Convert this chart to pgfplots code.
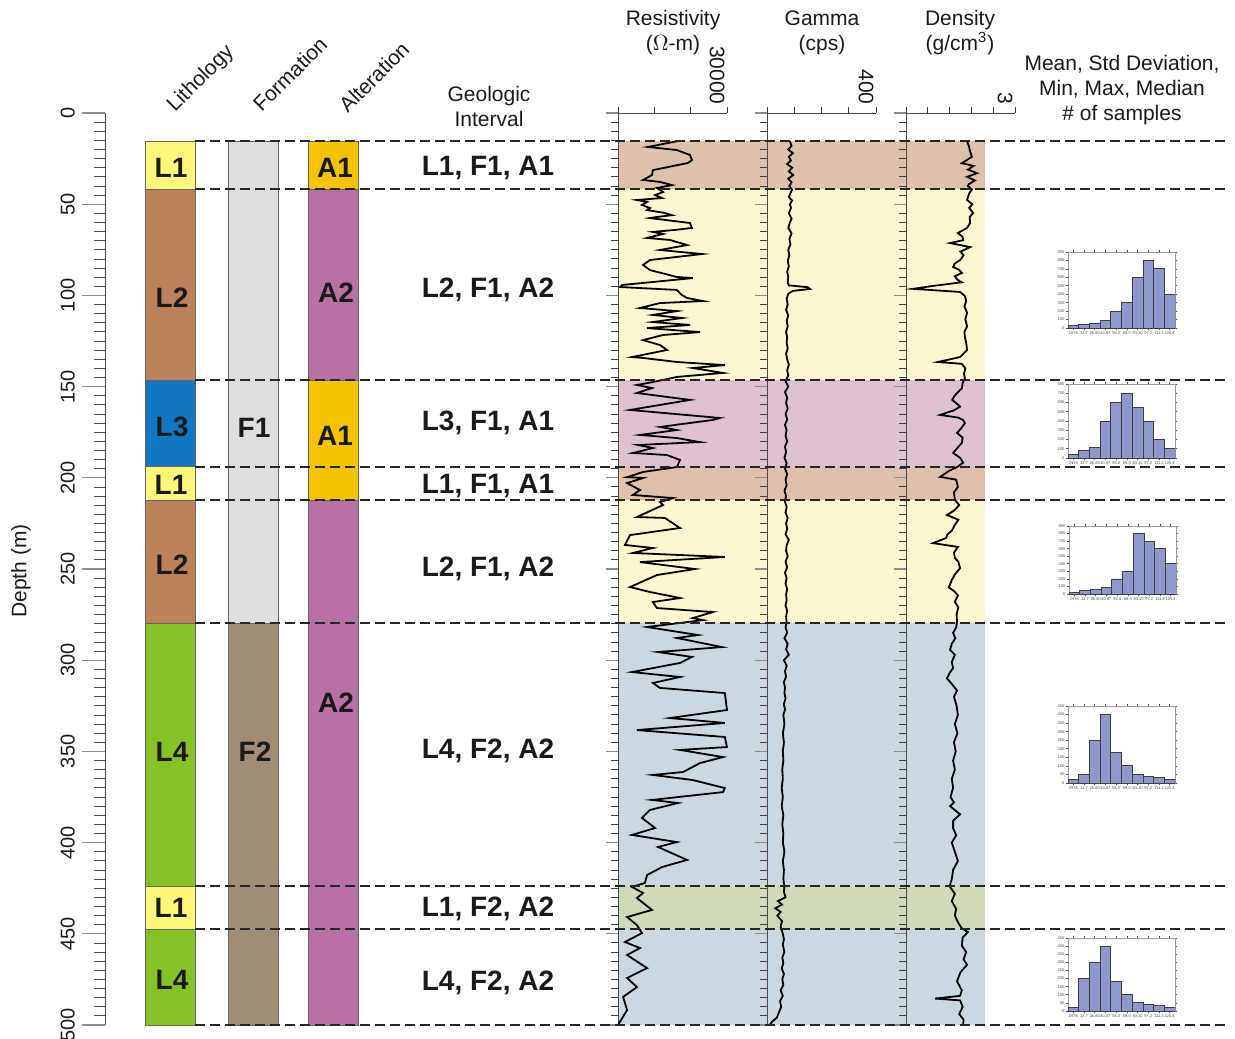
\documentclass[border=0pt]{standalone}
\usepackage{fontspec}
\setmainfont{Liberation Sans}
\usepackage{pgfplots}
\usepackage{pgfplotstable}
\pgfplotsset{compat=1.18}
\pgfplotsset{/pgf/number format/assume math mode=true}
\definecolor{cLone}{HTML}{FFF77A}
\definecolor{cLtwo}{HTML}{BC825C}
\definecolor{cLthree}{HTML}{1177C0}
\definecolor{cLfour}{HTML}{85C227}
\definecolor{cFone}{HTML}{DEDEDE}
\definecolor{cFtwo}{HTML}{A08D76}
\definecolor{cAone}{HTML}{F5C400}
\definecolor{cAtwo}{HTML}{B970A3}
\definecolor{shA}{HTML}{DFC0AB}
\definecolor{shB}{HTML}{FBF7D0}
\definecolor{shC}{HTML}{DFC2CF}
\definecolor{shD}{HTML}{CBD8E0}
\definecolor{shE}{HTML}{CEDAB8}
\definecolor{hbar}{HTML}{8F97CB}
\definecolor{txt}{HTML}{1A1A1A}
\newcommand{\lab}{\fontsize{14}{16}\selectfont\bfseries\color{txt}}
\newcommand{\hdr}{\fontsize{10.5}{12.5}\selectfont\color{txt}}
\newcommand{\blk}[5]{\addplot[fill=#5, draw=black!60, line width=0.4pt] coordinates {(#1,#3) (#2,#3) (#2,#4) (#1,#4)} -- cycle;}
\newcommand{\shd}[5]{\addplot[fill=#5, draw=none] coordinates {(#1,#3) (#2,#3) (#2,#4) (#1,#4)} -- cycle;}
\newcommand{\dline}[1]{\addplot[dash pattern=on 5pt off 2.5pt, line width=0.9pt, color=black!85] coordinates {(195,#1) (1228,#1)};}

\pgfplotstableread{
depth res
15.4 16500
18.6 8250
20.3 16200
23.0 19800
25.8 20350
27.4 19250
31.3 9600
34.0 9350
36.7 6900
37.8 11550
39.5 14850
41.1 10700
43.3 12400
45.0 10200
46.6 12100
47.7 5200
48.8 8000
50.4 6600
52.1 8800
53.2 8000
54.8 12900
56.0 14850
57.0 10700
57.6 8800
60.3 19800
63.0 20350
64.1 15700
65.2 9600
66.3 12400
68.5 8000
69.6 14300
72.4 19000
75.1 11550
77.3 23100
78.9 16200
80.6 8800
83.3 6900
86.1 8800
89.9 16200
90.5 20600
94.3 1100
95.4 550
97.0 16200
99.8 17600
101.4 19000
103.1 23400
104.2 11550
106.9 6050
108.6 16200
110.7 9600
112.4 17600
114.6 9600
116.2 19800
117.9 8000
120.1 22550
121.7 12400
124.5 6900
127.2 11550
129.9 13500
133.8 3850
134.3 6900
136.5 16200
138.2 29400
139.8 20600
142.5 28900
144.7 16200
147.5 9600
149.1 5200
150.8 9350
153.5 5200
157.3 19800
162.8 3300
167.2 28050
168.3 26100
172.1 11550
173.8 16200
176.5 6050
178.2 16200
180.4 22550
182.0 5500
183.7 9600
186.4 4100
187.5 13500
190.2 17050
194.1 16200
196.8 6900
199.6 2500
200.1 6900
202.9 2500
206.7 6050
209.4 4100
211.1 15100
213.3 11550
214.9 12400
221.5 5200
222.0 12900
227.5 17050
231.4 3300
236.8 1900
238.5 9600
241.2 4100
243.4 29400
246.2 6050
250.0 21200
253.3 10700
259.9 3300
262.6 8800
265.9 17050
268.1 9600
271.4 10700
273.6 26100
276.9 20600
278.0 23400
281.8 8000
286.2 22000
287.8 16200
292.8 28600
295.5 11000
298.2 20350
301.5 17050
306.5 3850
309.2 17050
312.5 9600
315.2 11550
318.0 29400
327.3 30000
331.7 14300
334.4 29400
338.3 5200
342.1 29400
347.6 30000
349.2 17050
353.1 28900
356.4 22550
361.3 17900
362.9 9600
365.7 20600
370.1 29400
372.3 28900
376.6 9350
378.3 16500
382.1 8800
386.5 6600
392.0 10200
395.8 3850
399.7 16200
402.4 11000
409.5 19000
413.4 12100
417.8 8000
422.1 7400
424.3 3850
427.6 6900
430.4 5200
436.9 9350
440.8 2500
445.2 5200
449.6 6600
454.5 1900
457.8 6050
461.6 2500
468.8 8000
474.2 2500
479.2 5200
484.6 1400
491.8 2500
500.0 0
}\restable

\pgfplotstableread{
depth gam
15.5 84
18 90
20 78
22 95
24 80
26 88
28 74
30 92
32 80
34 96
36 78
38 90
40 82
42 92
44 86
46 80
48 92
50 84
52 88
55 80
58 90
60 84
63 78
66 90
69 82
72 86
75 78
78 82
81 76
84 80
87 74
90 78
93 76
94.5 80
95.5 150
96.5 158
97.5 95
99 78
102 72
105 76
108 70
111 78
114 72
117 76
120 70
123 74
126 72
129 76
132 70
135 74
138 80
141 74
144 78
147 68
150 78
153 66
156 74
159 70
162 76
165 68
168 74
171 66
174 72
177 68
180 74
183 66
186 70
189 64
192 72
195 66
198 74
201 68
204 72
207 64
210 70
213 66
216 72
219 68
222 76
225 70
228 74
231 68
234 80
237 72
240 70
243 76
246 68
249 74
252 66
255 72
258 68
261 74
264 70
267 72
270 68
273 74
276 70
279 72
282 68
285 74
288 64
291 76
294 70
297 80
300 62
303 72
306 66
309 70
312 62
315 66
318 64
321 68
324 62
327 66
330 60
335 64
340 58
345 62
350 58
355 60
360 56
365 58
370 54
375 58
380 54
385 60
390 56
395 60
400 58
405 64
410 58
415 62
420 60
424 64
427 62
430 68
432 40
434 55
436 30
438 50
440 38
443 55
446 50
450 58
453 62
456 58
460 64
463 56
466 60
469 54
472 62
475 56
478 60
481 50
484 58
487 48
490 52
493 44
496 36
498 20
500 10
}\gamtable

\pgfplotstableread{
depth den
15.5 1.90
18.0 1.94
21.0 1.97
24.0 2.01
26.0 1.88
27.5 1.78
29.0 2.05
31.0 1.92
33.0 2.13
35.0 1.90
37.0 2.08
39.0 1.94
40.0 1.92
42.0 2.01
44.0 1.95
47.7 1.90
50.0 2.02
52.0 1.95
54.8 2.04
57.0 1.96
60.3 1.97
63.0 1.90
65.8 1.69
68.0 1.80
69.7 1.81
71.3 1.51
73.5 1.97
76.0 1.75
78.0 1.82
80.6 1.74
82.5 1.62
84.4 1.58
86.0 1.72
87.7 1.78
89.5 1.62
91.2 1.67
92.8 1.78
94.8 1.12
96.4 0.66
98.1 1.74
100.3 1.85
103.0 1.88
106.0 1.84
109.6 1.90
113.0 1.86
117.0 1.90
120.0 1.84
122.8 1.85
126.0 1.88
129.9 1.90
133.8 1.74
136.5 1.23
137.5 1.78
140.0 1.86
143.0 1.83
145.3 1.85
148.0 1.80
151.0 1.78
153.5 1.67
155.5 1.60
157.3 1.56
160.0 1.70
161.0 1.74
163.0 1.60
165.5 1.28
167.0 1.70
168.3 1.81
170.0 1.85
173.0 1.76
175.4 1.67
178.0 1.80
180.9 1.78
183.0 1.70
186.4 1.58
189.0 1.74
191.7 1.81
194.0 1.68
196.0 1.50
199.5 1.28
201.0 1.65
205.0 1.69
208.0 1.60
212.0 1.62
215.0 1.72
218.0 1.60
220.4 1.44
223.0 1.70
225.9 1.62
229.0 1.55
231.0 1.45
233.0 1.42
235.8 1.12
237.9 1.69
241.0 1.60
243.9 1.62
246.0 1.70
249.5 1.74
253.0 1.62
256.0 1.55
259.0 1.50
260.0 1.48
262.5 1.62
264.5 1.69
268.0 1.62
271.0 1.70
275.0 1.66
279.0 1.67
282.0 1.65
285.0 1.58
288.0 1.63
291.0 1.55
294.4 1.51
297.0 1.62
301.0 1.55
304.3 1.58
307.0 1.50
310.0 1.44
313.0 1.55
316.6 1.67
320.0 1.60
325.0 1.66
330.0 1.69
335.0 1.62
340.0 1.68
345.0 1.60
350.0 1.64
355.0 1.58
360.0 1.62
365.0 1.55
370.0 1.58
375.0 1.52
378.0 1.60
380.0 1.51
384.5 1.74
388.0 1.58
392.0 1.58
396.0 1.65
400.0 1.55
405.0 1.62
410.0 1.69
415.0 1.58
420.0 1.55
424.0 1.50
428.0 1.62
432.0 1.55
436.4 1.65
440.0 1.62
444.0 1.70
447.0 1.78
449.0 1.92
452.0 1.80
456.5 1.78
460.0 1.88
464.0 1.82
467.0 1.90
471.0 1.75
476.0 1.67
481.0 1.78
484.0 1.74
485.5 1.17
486.5 1.74
490.0 1.80
494.0 1.72
497.0 1.82
500.0 1.81
}\dentable

\pgfplotsset{
  track/.style={
    anchor=north west, scale only axis, width=54.5pt, height=456pt,
    ymin=0, ymax=500, y dir=reverse, axis x line*=top, axis y line*=left, clip=false,
    axis line style={black!70, line width=0.5pt},
    tick align=outside, major tick length=3pt,
    ytick=\empty,
    tick style={black!75, line width=0.5pt},
    x tick label style={rotate=-90, anchor=north east, font=\hdr, inner sep=1pt},
  },
  ticker/.style={
    anchor=north west, scale only axis, width=20pt, height=456pt,
    xmin=0, xmax=1, ymin=0, ymax=500, y dir=reverse, clip=false,
    axis x line=none, axis y line*=left,
    y axis line style={draw=none},
    ytick={0,50,...,500}, minor y tick num=9,
    tick align=outside, major tick length=6pt, minor tick length=3.5pt,
    major tick style={black!45, line width=0.6pt},
    minor tick style={black!75, line width=0.45pt},
    yticklabel style={text opacity=0, font=\tiny},
  },
  hist/.style={
    anchor=north west, scale only axis, width=53.5pt,
    xmin=0, xmax=10, ymin=0, axis line style={black!40, line width=0.4pt},
    tick align=outside, major tick length=1.2pt, tick style={black!70, line width=0.3pt},
    xtick={0.5,1.5,...,9.5},
    xticklabels={2976,12.7,26.80,40.87,55.0,69.0,83.10,97.2,111.3,125.4},
    tick label style={font=\fontsize{2}{2}\selectfont, color=black!70, inner sep=0.5pt},
  },
}

\begin{document}
\begin{tikzpicture}[x=1pt,y=1pt]
\useasboundingbox (0,0) rectangle (617.5,-519);

% main depth axis with columns and shading
\begin{axis}[
  at={(52.5pt,-56.5pt)}, anchor=north west, scale only axis,
  width=561.5pt, height=456pt,
  xmin=105, xmax=1228, ymin=0, ymax=500, y dir=reverse, clip=false,
  axis x line=none, axis y line*=left,
  y axis line style={black!70, line width=0.5pt},
  ytick={0,50,...,500}, minor y tick num=9,
  tick align=outside, major tick length=11.5pt, minor tick length=5.5pt,
  major tick style={black!45, line width=0.6pt},
  minor tick style={black!70, line width=0.4pt},
  yticklabel style={rotate=90, anchor=south, font=\fontsize{10}{12}\selectfont, color=txt},
]
% background shading of the log tracks
\shd{618}{985}{15.4}{41.7}{shA}
\shd{618}{985}{41.7}{146.4}{shB}
\shd{618}{985}{146.4}{194.0}{shC}
\shd{618}{985}{194.0}{212.2}{shA}
\shd{618}{985}{212.2}{279.6}{shB}
\shd{618}{985}{279.6}{423.8}{shD}
\shd{618}{985}{423.8}{447.4}{shE}
\shd{618}{985}{447.4}{500}{shD}
% lithology
\blk{145}{195}{15.4}{41.7}{cLone}
\blk{145}{195}{41.7}{146.4}{cLtwo}
\blk{145}{195}{146.4}{194.0}{cLthree}
\blk{145}{195}{194.0}{212.2}{cLone}
\blk{145}{195}{212.2}{279.6}{cLtwo}
\blk{145}{195}{279.6}{423.8}{cLfour}
\blk{145}{195}{423.8}{447.4}{cLone}
\blk{145}{195}{447.4}{500}{cLfour}
% formation
\blk{228}{278}{15.4}{279.6}{cFone}
\blk{228}{278}{279.6}{500}{cFtwo}
% alteration
\blk{308}{358}{15.4}{41.7}{cAone}
\blk{308}{358}{41.7}{146.4}{cAtwo}
\blk{308}{358}{146.4}{212.2}{cAone}
\blk{308}{358}{212.2}{500}{cAtwo}
% labels
\node[font=\lab] at (axis cs:171,30.2) {L1};
\node[font=\lab] at (axis cs:172,101.4) {L2};
\node[font=\lab] at (axis cs:172,172.1) {L3};
\node[font=\lab] at (axis cs:171,203.9) {L1};
\node[font=\lab] at (axis cs:172,247.8) {L2};
\node[font=\lab] at (axis cs:172,350.3) {L4};
\node[font=\lab] at (axis cs:171,435.9) {L1};
\node[font=\lab] at (axis cs:172,475.3) {L4};
\node[font=\lab] at (axis cs:254,172.7) {F1};
\node[font=\lab] at (axis cs:255,350.3) {F2};
\node[font=\lab] at (axis cs:335,30.2) {A1};
\node[font=\lab] at (axis cs:336,98.7) {A2};
\node[font=\lab] at (axis cs:335,177.1) {A1};
\node[font=\lab] at (axis cs:336,323.5) {A2};
\node[font=\lab] at (axis cs:488,30.2) {L1, F1, A1};
\node[font=\lab] at (axis cs:488,97.0) {L2, F1, A2};
\node[font=\lab] at (axis cs:488,170.0) {L3, F1, A1};
\node[font=\lab] at (axis cs:488,204.5) {L1, F1, A1};
\node[font=\lab] at (axis cs:488,250.0) {L2, F1, A2};
\node[font=\lab] at (axis cs:488,349.8) {L4, F2, A2};
\node[font=\lab] at (axis cs:488,436.4) {L1, F2, A2};
\node[font=\lab] at (axis cs:488,477.0) {L4, F2, A2};
\end{axis}

% depth ticks on the left of each log track
\begin{axis}[ticker, at={(309pt,-56.5pt)}]\end{axis}
\begin{axis}[ticker, at={(383.5pt,-56.5pt)}]\end{axis}
\begin{axis}[ticker, at={(453pt,-56.5pt)}]\end{axis}

% resistivity track
\begin{axis}[track, at={(309pt,-56.5pt)},
  xmin=0, xmax=30000, xtick={0,10000,20000,30000}, xticklabels={,,,30000},
  scaled x ticks=false]
\addplot[black, line width=0.9pt] table[x=res, y=depth] {\restable};
\end{axis}

% gamma track
\begin{axis}[track, at={(383.5pt,-56.5pt)},
  xmin=0, xmax=400, xtick={0,100,...,400}, xticklabels={,,,,400}]
\addplot[black, line width=0.9pt] table[x=gam, y=depth] {\gamtable};
\end{axis}

% density track
\begin{axis}[track, at={(453pt,-56.5pt)},
  xmin=0.5, xmax=3, xtick={0.5,1,...,3}, xticklabels={,,,,,3}]
\addplot[black, line width=0.9pt] table[x=den, y=depth] {\dentable};
\end{axis}

% histograms
\begin{axis}[hist, at={(534pt,-126pt)}, height=38pt, ymax=900, ytick={0,100,...,900}]
\addplot[ybar interval, fill=hbar, draw=black!75, line width=0.4pt] coordinates {(0,25) (1,40) (2,60) (3,90) (4,200) (5,300) (6,600) (7,800) (8,700) (9,400) (10,400)};
\end{axis}
\begin{axis}[hist, at={(534pt,-192pt)}, height=37pt, ymax=800, ytick={0,100,...,800}]
\addplot[ybar interval, fill=hbar, draw=black!75, line width=0.4pt] coordinates {(0,40) (1,80) (2,115) (3,400) (4,600) (5,700) (6,550) (7,400) (8,200) (9,100) (10,100)};
\end{axis}
\begin{axis}[hist, at={(534.5pt,-263pt)}, height=34pt, ymax=900, ytick={0,100,...,900}]
\addplot[ybar interval, fill=hbar, draw=black!75, line width=0.4pt] coordinates {(0,20) (1,45) (2,60) (3,85) (4,200) (5,300) (6,800) (7,700) (8,600) (9,400) (10,400)};
\end{axis}
\begin{axis}[hist, at={(534pt,-353pt)}, height=38.5pt, ymax=450, ytick={0,50,...,450}]
\addplot[ybar interval, fill=hbar, draw=black!75, line width=0.4pt] coordinates {(0,20) (1,50) (2,250) (3,400) (4,180) (5,100) (6,50) (7,40) (8,30) (9,20) (10,20)};
\end{axis}
\begin{axis}[hist, at={(534pt,-469pt)}, height=36.5pt, ymax=450, ytick={0,50,...,450}]
\addplot[ybar interval, fill=hbar, draw=black!75, line width=0.4pt] coordinates {(0,22) (1,200) (2,300) (3,400) (4,185) (5,100) (6,55) (7,43) (8,35) (9,22) (10,22)};
\end{axis}

% dashed interval boundaries on top
\begin{axis}[
  at={(52.5pt,-56.5pt)}, anchor=north west, scale only axis,
  width=561.5pt, height=456pt,
  xmin=105, xmax=1228, ymin=0, ymax=500, y dir=reverse, clip=false,
  hide axis]
\dline{15.4}
\dline{41.7}
\dline{146.4}
\dline{194.0}
\dline{212.2}
\dline{279.6}
\dline{423.8}
\dline{447.4}
\dline{500}
\end{axis}

% headers
\node[font=\hdr, rotate=45] at (100.5,-39.5) {Lithology};
\node[font=\hdr, rotate=45] at (145,-37) {Formation};
\node[font=\hdr, rotate=45] at (187,-38.5) {Alteration};
\node[font=\hdr, align=center] at (244.5,-53) {Geologic\\Interval};
\node[font=\hdr, align=center] at (336.5,-16.5) {Resistivity\\($\Omega$-m)};
\node[font=\hdr, align=center] at (411,-16.5) {Gamma\\(cps)};
\node[font=\hdr, align=center] at (480,-16.5) {Density\\(g/cm\textsuperscript{3})};
\node[font=\hdr, align=center] at (561,-45) {Mean, Std Deviation,\\Min, Max, Median\\\# of samples};
\node[font=\hdr, rotate=90] at (10.5,-285.5) {Depth (m)};
\end{tikzpicture}
\end{document}
